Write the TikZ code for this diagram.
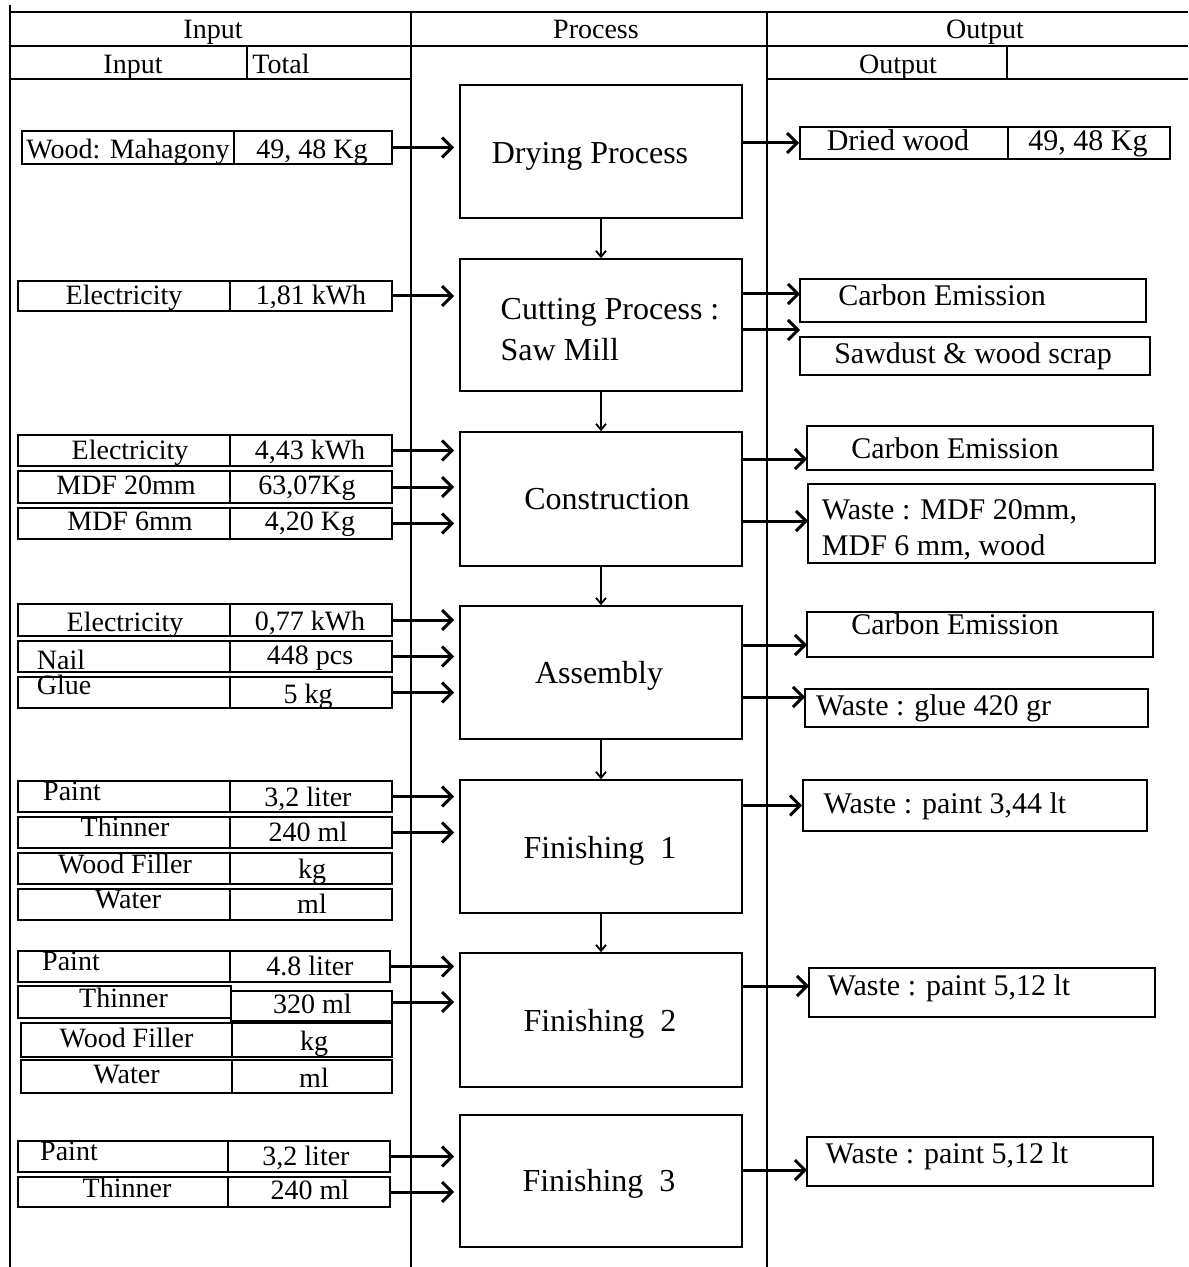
\documentclass[tikz,border=0pt]{standalone}
\usepackage{fontspec}
\setmainfont{Liberation Serif}
\usetikzlibrary{arrows.meta}
% #1 style, #2 name, #3-#6 corners (px), #7 text x-shift (px), #8 text raise (px), #9 text
\newcommand\pcell[9][cellbox]{%
 \pgfmathsetmacro\cx{(#3+#5)/2}\pgfmathsetmacro\cy{(#4+#6)/2}%
 \pgfmathsetmacro\cw{(#5-#3)*0.5}\pgfmathsetmacro\ch{(#6-#4)*0.5}%
 \node[#1, minimum width=\cw pt, minimum height=\ch pt] (#2) at (\cx,\cy) {\makebox[0pt][c]{\hspace*{#7pt}\raisebox{0.5\dimexpr #8pt\relax}{#9}}};}
\tikzset{
 cellbox/.style={draw, line width=0.8pt, inner sep=0pt, anchor=center, font=\fontsize{14}{16.8}\selectfont, text height=9.8pt, text depth=2.8pt},
 outbox/.style={cellbox, font=\fontsize{15}{18}\selectfont, text height=10.5pt, text depth=3pt},
 procbox/.style={cellbox, font=\fontsize{16}{19.2}\selectfont, text height=11.2pt, text depth=3.2pt},
 hdr/.style={inner sep=0pt, font=\fontsize{14}{16.8}\selectfont, text height=9.8pt, text depth=2.8pt},
 frame/.style={line width=0.8pt},
 inarr/.style={line width=1.5pt, -{Straight Barb[length=5pt,width=10pt]}, shorten >=2.5pt},
 outarr/.style={line width=1.5pt, -{Straight Barb[length=5pt,width=10pt]}},
 downarr/.style={line width=0.9pt, -{Straight Barb[length=3pt,width=5pt]}},
}
\begin{document}
\begin{tikzpicture}[x=0.5pt,y=-0.5pt]
\useasboundingbox (0,0) rectangle (1188,1267);
% frame
\draw[frame] (10,5) -- (10,1267);
\draw[frame] (10,12) -- (1188,12);
\draw[frame] (10,46) -- (1188,46);
\draw[frame] (10,79) -- (411,79);
\draw[frame] (767,79) -- (1188,79);
\draw[frame] (411,12) -- (411,1267);
\draw[frame] (767,12) -- (767,1267);
\draw[frame] (247,46) -- (247,79);
\draw[frame] (1007,46) -- (1007,79);
% headers
\node[hdr] (hIn) at (213,32) {Input};
\node[hdr] (hPr) at (596,32) {Process};
\node[hdr] (hOut) at (985,32) {Output};
\node[hdr] (hIn2) at (133,67) {Input};
\node[hdr] (hTot) at (281,67) {Total};
\node[hdr] (hOut2) at (898,67) {Output};
% process boxes
\pcell[procbox]{dry}{460}{85}{742}{218}{-11}{-4}{Drying Process}
\pcell[procbox]{cut}{460}{259}{742}{391}{9}{-8}{\smash{\begin{tabular}{@{}l@{}}Cutting Process :\\[1pt] Saw Mill\end{tabular}}}
\pcell[procbox]{con}{460}{432}{742}{566}{6}{-2}{Construction}
\pcell[procbox]{asm}{460}{606}{742}{739}{-2}{-3}{Assembly}
\pcell[procbox]{fin1}{460}{780}{742}{913}{-1}{-4}{Finishing\ \ 1}
\pcell[procbox]{fin2}{460}{953}{742}{1087}{-1}{-3}{Finishing\ \ 2}
\pcell[procbox]{fin3}{460}{1115}{742}{1247}{-2}{-2}{Finishing\ \ 3}
% input cells
\pcell{wA}{22}{131}{234}{164}{0}{-4}{Wood: Mahagony}
\pcell{wB}{234}{131}{392}{164}{-1}{-4}{49, 48 Kg}
\pcell{e1A}{18}{281}{230}{311}{0}{-2}{Electricity}
\pcell{e1B}{230}{281}{392}{311}{0}{-2}{1,81 kWh}
\pcell{e2A}{18}{435}{230}{466}{6}{-2}{Electricity}
\pcell{e2B}{230}{435}{392}{466}{-1}{-2}{4,43 kWh}
\pcell{m20A}{18}{471}{230}{503}{2}{0}{MDF 20mm}
\pcell{m20B}{230}{471}{392}{503}{-4}{0}{63,07Kg}
\pcell{m6A}{18}{508}{230}{539}{6}{0}{MDF 6mm}
\pcell{m6B}{230}{508}{392}{539}{-1}{0}{4,20 Kg}
\pcell{e3A}{18}{604}{230}{636}{1}{-4}{Electricity}
\pcell{e3B}{230}{604}{392}{636}{-1}{-3}{0,77 kWh}
\pcell{nailA}{18}{641}{230}{672}{-63}{-6}{Nail}
\pcell{nailB}{230}{641}{392}{672}{-1}{-1}{448 pcs}
\pcell{glueA}{18}{677}{230}{708}{-60}{5}{Glue}
\pcell{glueB}{230}{677}{392}{708}{-3}{-4}{5 kg}
\pcell{p1A}{18}{781}{230}{812}{-52}{3}{Paint}
\pcell{p1B}{230}{781}{392}{812}{-3}{-3}{3,2 liter}
\pcell{t1A}{18}{817}{230}{848}{1}{3}{Thinner}
\pcell{t1B}{230}{817}{392}{848}{-3}{-2}{240 ml}
\pcell{wf1A}{18}{853}{230}{884}{1}{2}{Wood Filler}
\pcell{wf1B}{230}{853}{392}{884}{1}{-3}{kg}
\pcell{wa1A}{18}{889}{230}{920}{4}{3}{Water}
\pcell{wa1B}{230}{889}{392}{920}{1}{-2}{ml}
\pcell{p2A}{18}{951}{230}{982}{-53}{3}{Paint}
\pcell{p2B}{230}{951}{390}{982}{0}{-2}{4.8 liter}
\pcell{t2A}{18}{986}{231}{1018}{-1}{2}{Thinner}
\pcell{t2B}{231}{991}{392}{1021}{1}{0}{320 ml}
\pcell[cellbox,line width=1.2pt]{wf2A}{21}{1023}{232}{1057}{0}{0}{Wood Filler}
\pcell[cellbox,line width=1.2pt]{wf2B}{232}{1023}{392}{1057}{2}{-3}{kg}
\pcell{wa2A}{21}{1060}{232}{1093}{0}{0}{Water}
\pcell{wa2B}{232}{1060}{392}{1093}{2}{-4}{ml}
\pcell{p3A}{18}{1141}{228}{1172}{-54}{3}{Paint}
\pcell{p3B}{228}{1141}{390}{1172}{-3}{-2}{3,2 liter}
\pcell{t3A}{18}{1177}{228}{1207}{4}{2}{Thinner}
\pcell{t3B}{228}{1177}{390}{1207}{1}{0}{240 ml}
% output cells
\pcell[outbox]{driedA}{800}{127}{1008}{159}{-6}{0}{Dried wood}
\pcell[outbox]{driedB}{1008}{127}{1170}{159}{-1}{0}{49, 48 Kg}
\pcell[outbox]{co1}{800}{279}{1146}{322}{-31}{3}{Carbon Emission}
\pcell[outbox]{saw}{800}{337}{1150}{375}{-2}{0}{Sawdust \& wood scrap}
\pcell[outbox]{co2}{807}{426}{1153}{470}{-25}{-3}{Carbon Emission}
\pcell[outbox]{wmdf}{808}{484}{1155}{563}{-32}{-6}{\smash{\begin{tabular}{@{}l@{}}Waste : MDF 20mm,\\ MDF 6 mm, wood\end{tabular}}}
\pcell[outbox]{co3}{807}{612}{1153}{657}{-25}{8}{Carbon Emission}
\pcell[outbox]{wglue}{805}{689}{1148}{727}{-43}{0}{Waste : glue 420 gr}
\pcell[outbox]{wp1}{803}{780}{1147}{831}{-30}{0}{Waste : paint 3,44 lt}
\pcell[outbox]{wp2}{809}{968}{1155}{1017}{-33}{5}{Waste : paint 5,12 lt}
\pcell[outbox]{wp3}{807}{1137}{1153}{1186}{-33}{6}{Waste : paint 5,12 lt}
% down arrows
\draw[downarr] (dry.south) -- (cut.north);
\draw[downarr] (cut.south) -- (con.north);
\draw[downarr] (con.south) -- (asm.north);
\draw[downarr] (asm.south) -- (fin1.north);
\draw[downarr] (fin1.south) -- (fin2.north);
% input arrows
\draw[inarr] (wB.east) -- (wB.east -| dry.west);
\draw[inarr] (e1B.east) -- (e1B.east -| cut.west);
\draw[inarr] (e2B.east) -- (e2B.east -| con.west);
\draw[inarr] (m20B.east) -- (m20B.east -| con.west);
\draw[inarr] (m6B.east) -- (m6B.east -| con.west);
\draw[inarr] (e3B.east) -- (e3B.east -| asm.west);
\draw[inarr] (nailB.east) -- (nailB.east -| asm.west);
\draw[inarr] (glueB.east) -- (glueB.east -| asm.west);
\draw[inarr] (p1B.east) -- (p1B.east -| fin1.west);
\draw[inarr] (t1B.east) -- (t1B.east -| fin1.west);
\draw[inarr] (p2B.east) -- (p2B.east -| fin2.west);
\draw[inarr] (t2A.east -| t2B.east) -- (t2A.east -| fin2.west);
\draw[inarr] (p3B.east) -- (p3B.east -| fin3.west);
\draw[inarr] (t3B.east) -- (t3B.east -| fin3.west);
% output arrows
\coordinate (a1) at (800,294);
\coordinate (a2) at (800,330);
\coordinate (a3) at (807,459);
\coordinate (a4) at (808,521);
\coordinate (a5) at (807,645);
\coordinate (a6) at (805,697);
\coordinate (a7) at (809,986);
\coordinate (a8) at (807,1170);
\draw[outarr] (dry.east |- driedA.west) -- (driedA.west);
\draw[outarr] (cut.east |- a1) -- (a1);
\draw[outarr] (cut.east |- a2) -- (a2);
\draw[outarr] (con.east |- a3) -- (a3);
\draw[outarr] (con.east |- a4) -- (a4);
\draw[outarr] (asm.east |- a5) -- (a5);
\draw[outarr] (asm.east |- a6) -- (a6);
\draw[outarr] (fin1.east |- wp1.west) -- (wp1.west);
\draw[outarr] (fin2.east |- a7) -- (a7);
\draw[outarr] (fin3.east |- a8) -- (a8);
\end{tikzpicture}
\end{document}
